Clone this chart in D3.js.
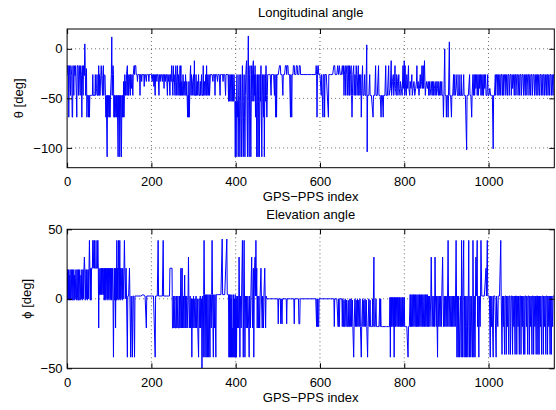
<!DOCTYPE html>
<html><head><meta charset="utf-8">
<script src="https://cdn.jsdelivr.net/npm/d3@7"></script>
<style>
body{margin:0;background:#fff}
text{font-family:"Liberation Sans",Arial,Helvetica,sans-serif;font-size:13px;fill:#000}
</style>
</head><body>
<svg id="c" width="556" height="410"></svg>
<script>
const xTicks=[0,200,400,600,800,1000];
const thetaTicks=[-100,-50,0];
const phiTicks=[-50,0,50];
const xMax=1156;

// Longitudinal angle theta [deg], [GPS-PPS index, value]
const theta=[[0,-27],[1,-17],[3,-17],[4,-69],[5,-27],[6,-17],[8,-47],[9,-17],[11,-27],[12,-69],[13,-69],[14,-17],[16,-47],[17,-17],[19,-27],[20,-17],[22,-47],[23,-69],[24,-17],[26,-17],[27,-47],[28,-27],[29,-17],[31,-47],[32,-17],[34,-27],[35,-69],[36,-17],[38,-47],[39,-17],[41,-27],[42,5],[43,-17],[44,-47],[46,-20],[47,-69],[48,-47],[50,-47],[51,-69],[52,-47],[53,-69],[54,-47],[56,-47],[58,-47],[60,-47],[61,-26],[62,-47],[64,-47],[66,-47],[67,-26],[68,-47],[70,-40],[71,-26],[72,-47],[74,-47],[75,-17],[76,-47],[77,-26],[78,-47],[80,-27],[81,-17],[82,-27],[84,-47],[85,-26],[86,-17],[87,-47],[88,-26],[90,-27],[91,-47],[92,-69],[93,-47],[95,-109],[96,-47],[97,-69],[98,-47],[100,-69],[101,-47],[102,-69],[103,-47],[105,-26],[106,12],[107,-47],[108,-26],[109,-17],[110,-26],[111,-69],[112,-47],[113,-69],[114,-47],[116,-69],[117,-47],[118,-69],[119,-47],[121,-109],[122,-47],[123,-69],[124,-47],[125,-109],[126,-69],[127,-47],[129,-109],[130,-47],[131,-69],[132,-47],[133,-69],[134,-33],[135,-69],[136,-47],[137,-26],[138,-47],[139,-33],[140,-47],[141,-26],[143,-17],[144,-47],[145,-26],[146,-47],[148,-33],[149,-26],[150,-47],[151,-26],[153,-40],[154,-26],[156,-47],[157,-26],[159,-17],[160,-26],[161,-17],[163,-17],[164,-26],[166,-26],[167,-33],[168,-26],[170,-26],[172,-26],[173,-47],[174,-26],[176,-26],[177,-33],[178,-26],[180,-26],[182,-26],[183,-38],[184,-26],[186,-26],[188,-33],[189,-26],[191,-26],[193,-26],[194,-33],[195,-26],[198,-26],
[200,-26],[202,-33],[203,-26],[205,-26],[206,-38],[207,-26],[209,-47],[210,-26],[212,-26],[213,-33],[214,-26],[216,-26],[218,-47],[219,-26],[221,-33],[222,-26],[224,-26],[226,-33],[227,-26],[229,-26],[230,-40],[231,-26],[233,-33],[234,-26],[236,-26],[238,-47],[239,-26],[241,-33],[242,-26],[244,-47],[245,-26],[247,-33],[248,-17],[249,-26],[251,-47],[252,-17],[253,-33],[254,-26],[256,-47],[257,-26],[258,-17],[259,-47],[260,-33],[262,-17],[263,-47],[264,-26],[266,-47],[267,-33],[268,-17],[269,-47],[270,-17],[271,-47],[272,-33],[274,-47],[275,-26],[277,-47],[278,-33],[280,-47],[281,-26],[283,-47],[284,-33],[286,-69],[287,-47],[288,-69],[289,-33],[290,-69],[291,-47],[292,-26],[293,-17],[294,-47],[295,-26],[297,-47],[298,-33],[300,-26],[301,-47],[302,-12],[303,-47],[305,-47],[306,-26],[307,-47],[309,-33],[310,-47],[312,-26],[313,-47],[315,-47],[316,-33],[317,-47],[319,-26],[320,-47],[322,-47],[323,-17],[324,-47],[326,-33],[327,-47],[329,-26],[330,-47],[331,-17],[332,-47],[334,-26],[335,-47],[337,-26],[338,-47],[340,-26],[342,-26],[344,-26],[346,-33],[347,-26],[350,-26],[351,-47],[352,-26],[355,-26],[357,-33],[358,-26],[361,-26],[363,-47],[364,-26],[367,-26],[369,-26],[370,-33],[371,-26],[374,-26],[376,-47],[377,-26],[380,-26],[382,-26],[383,-53],[384,-26],[386,-53],[387,-26],[389,-53],[390,-26],[392,-53],[393,-26],[395,-53],[396,-26],[398,-53],
[399,-109],[400,-53],[401,-109],[402,-53],[403,-26],[404,-69],[405,-53],[406,-109],[407,-47],[408,-26],[409,-69],[410,-109],[411,-53],[412,-26],[413,-69],[414,-109],[415,-47],[416,-17],[417,-69],[418,-109],[419,-53],[420,-26],[421,-69],[422,-109],[423,-47],[424,-26],[425,-17],[426,-12],[427,-69],[428,-109],[429,-26],[430,13],[431,-53],[432,-109],[433,-26],[434,-17],[435,-69],[436,-109],[437,-47],[438,-17],[439,-53],[440,-26],[441,-17],[442,-12],[443,-53],[444,-26],[445,-47],[446,-17],[447,-69],[448,-26],[449,-53],[450,-109],[451,-47],[452,-26],[453,-109],[454,-53],[455,-26],[456,-109],[457,-69],[458,-26],[459,-53],[460,-17],[461,-69],[462,-109],[463,-47],[464,-26],[465,-53],[466,-69],[467,-26],[468,-109],[469,-47],[470,-26],[471,-53],[472,-17],[473,-47],[474,-69],[475,-47],[476,-26],[478,-26],
[480,-26],[482,-26],[484,-47],[485,-26],[488,-26],[490,-26],[492,-47],[493,-26],[495,-69],[496,-26],[497,-69],[498,-26],[501,-26],[504,-17],[506,-17],[507,-26],[510,-26],[512,-47],[513,-26],[516,-26],[518,-17],[520,-17],[521,-26],[522,-17],[524,-17],[525,-26],[528,-26],[530,-69],[531,-26],[533,-69],[534,-26],[536,-26],[537,-17],[539,-17],[540,-26],[543,-26],[544,-17],[546,-17],[547,-26],[550,-26],[551,-17],[553,-17],[554,-26],[560,-26],[570,-26],[580,-26],[590,-26],
[591,-17],[592,-26],[593,-69],[594,-26],[595,-17],[596,-17],[597,-26],[600,-26],[603,-47],[604,-26],[607,-69],[608,-26],[610,-26],[611,-69],[612,-26],[615,-26],[620,-69],[621,-26],[625,-26],[630,-26],[633,-17],[635,-17],[636,-26],[640,-26],[642,-17],[644,-26],[646,-17],[648,-26],[651,-26],[653,-17],[655,-26],[656,-17],[657,-47],[658,-26],[660,-17],[661,-47],[662,-26],[664,-17],[665,-47],[667,-17],[668,-33],[669,-47],[670,-17],[671,-47],[672,-26],[674,-17],[675,-47],[676,-69],[677,-47],[678,-26],[680,-17],[681,-47],[683,-26],[684,-47],[686,-17],[687,-26],[688,-47],[690,-26],[691,-17],[692,-47],[694,-26],[695,-47],[697,-26],[698,-69],[699,-47],[701,-17],[702,-47],[704,-47],[706,-26],[707,-47],[709,-47],[711,4],[712,-104],[713,-47],[714,-47],
[716,-47],[718,-26],[719,-47],[722,-47],[726,-69],[727,-47],[730,-47],[732,-17],[733,-47],[736,-47],[739,-17],[740,-47],[743,-47],[745,-69],[746,-47],[748,-47],[750,-69],[751,-47],[754,-47],[756,-17],[757,-47],[760,-47],[763,-17],[764,-47],[767,-40],[769,-12],[770,-47],[772,-33],[774,-26],[775,-47],[777,-33],[778,-17],[779,-40],[781,-47],[782,-26],[784,-33],[785,-47],[787,-26],[788,-40],[790,-47],[791,-33],[793,-40],[795,-47],[797,-17],[798,-40],[800,-12],[801,-47],[802,-17],[803,-40],[805,-47],[806,-26],[808,-40],[810,-17],[811,-40],[813,-47],[814,-33],[816,-40],[818,-26],[819,-47],[821,-40],[823,-33],[825,-47],[827,-40],[829,-33],[830,-17],[831,-40],[833,-33],[835,-47],[836,-40],[838,-26],[839,-40],[841,-33],[842,-17],[843,-40],[845,-17],[846,-40],[848,-12],[849,-33],[850,-47],[851,-40],[853,-33],[855,-40],
[857,-33],[858,-47],[860,-33],[861,-47],[863,-40],[864,-33],[866,-47],[867,-33],[869,-47],[870,-33],[872,-40],[873,-47],[875,-33],[876,-47],[878,-33],[879,-40],[881,-47],[882,-33],[884,-47],[886,-33],[887,-47],[889,-33],[890,-47],[892,-47],[893,-69],[894,-47],[896,0],[897,-47],[899,-47],[900,-69],[901,-47],[903,-47],[904,-69],[905,-47],[907,7],[908,-47],[910,-47],[912,-69],[913,-47],[915,-47],[917,-26],[918,-47],[920,-26],[921,-47],[923,-40],[925,-26],[926,-47],[929,-47],[930,-26],[931,-47],[934,-47],[935,-26],[936,-47],[939,-47],[941,-26],[942,-47],[945,-47],[948,-102],[949,-47],[952,-47],[955,-26],[956,-47],[958,-47],[960,-69],[961,-47],[963,-26],[964,-47],[966,-26],[967,-47],[969,-26],[970,-40],[972,-26],[973,-47],[975,-26],[976,-47],[978,-26],[979,-40],[981,-26],[982,-47],[984,-26],[985,-47],[987,-26],[988,-47],[990,-26],[991,-40],[993,-26],[994,-47],[996,-47],[998,-26],[999,-47],[1001,-47],[1003,-40],[1005,-47],[1007,-47],[1009,-47],[1011,-101],[1012,-47],[1014,-47],[1016,-26],[1017,-47],[1019,-26],[1021,-26],[1022,-47],[1024,-26],[1025,-47],[1027,-26],[1029,-47],[1030,-26],[1032,-26],[1033,-47],[1035,-26],[1036,-47],[1038,-26],[1040,-26],[1041,-47],[1043,-26],[1045,-47],[1046,-26],[1048,-26],[1049,-47],[1051,-26],[1053,-26],[1054,-47],[1056,-26],[1057,-40],[1059,-26],[1061,-47],[1062,-26],[1064,-26],[1065,-47],[1067,-26],[1069,-26],[1070,-47],[1072,-26],[1074,-47],[1075,-26],[1077,-26],[1078,-47],[1080,-26],[1082,-26],[1083,-47],[1085,-26],[1087,-47],[1088,-26],[1090,-26],[1091,-47],[1093,-26],[1095,-26],[1096,-47],[1098,-26],[1100,-47],[1101,-26],[1103,-26],[1104,-47],[1106,-26],[1108,-26],[1109,-47],[1111,-26],[1113,-47],[1114,-26],[1116,-26],[1117,-47],[1119,-26],[1121,-47],[1122,-26],[1124,-26],[1125,-47],[1127,-26],[1129,-47],[1130,-26],[1132,-26],[1133,-47],[1135,-26],[1137,-47],[1138,-26],[1140,-26],[1141,-47],[1143,-26],[1145,-47],[1146,-26],[1148,-26],[1149,-47],[1151,-26],[1153,-47],[1154,-26],[1156,-26]];

// Elevation angle phi [deg], [GPS-PPS index, value]
const phi=[[0,-1],[1,21],[2,-1],[3,21],[4,0],[5,17],[6,-1],[7,21],[8,-1],[10,21],[11,0],[12,-1],[13,21],[14,-1],[16,21],[17,-1],[18,17],[19,0],[21,21],[22,-1],[24,21],[25,0],[26,-1],[27,21],[28,-1],[30,21],[31,-1],[33,17],[34,0],[35,21],[36,-1],[38,21],[39,0],[40,21],[41,30],[42,21],[43,-1],[45,21],[46,0],[47,21],[48,-1],[50,21],[51,0],[52,22],[53,42],[54,22],[55,-1],[56,22],
[57,-1],[58,22],[60,22],[61,42],[62,22],[63,30],[64,42],[65,22],[66,42],[67,22],[68,22],[70,22],[71,42],[72,22],[73,42],[74,22],[75,-21],[76,22],[77,3],[79,3],[80,22],[81,3],[82,22],[83,3],[84,22],[86,3],[87,22],[88,-1],[89,22],[90,0],[91,22],[92,-1],[93,22],[95,0],[96,22],[97,-1],[98,22],[99,0],[101,22],[102,-1],[103,22],[104,0],[105,22],[106,-1],[108,22],[109,-1],[110,-42],[111,0],[112,22],[113,-1],[114,22],[115,-21],[116,22],[117,-1],[118,42],[119,0],[120,22],[121,-1],[122,42],[123,22],[124,0],[125,42],[126,-1],[127,22],[128,0],[130,22],[131,-1],[132,22],[133,0],[135,22],[136,42],[137,22],[138,0],[140,22],[141,2],[143,-42],[144,2],[146,2],[148,22],[149,2],[151,-42],[152,2],[155,-42],[156,2],[158,2],[160,-42],[161,2],[165,2],[170,2],[175,2],[180,3],[185,2],[188,-21],[189,2],[195,2],[200,2],[205,2],[209,-42],[210,2],[214,2],[216,42],[217,2],[222,2],[226,2],[228,42],[229,2],[235,2],[240,2],[243,2],[244,22],[249,22],[250,-21],[252,-21],[253,2],[254,-21],[256,2],[257,-21],[259,-21],[260,2],[261,-21],[263,2],[264,-21],[266,-21],[267,2],[268,-21],[270,22],[271,-21],[272,2],[273,22],[274,-21],[276,2],[277,-21],[279,17],[280,-21],[281,2],[282,-21],[284,2],[285,-21],[287,0],[288,30],[289,0],[290,-21],[292,2],[293,-21],[295,0],[296,-42],[297,0],[298,-21],[300,2],[301,-21],[303,0],[304,-21],[306,2],[307,-21],[309,0],[310,-21],[312,-42],[313,0],[315,-21],[316,2],[317,-21],[319,0],[320,-50],[321,2],
[323,-42],[324,3],[325,42],[326,3],[327,-42],[328,3],[330,-42],[331,3],[333,-42],[334,3],[336,-42],[337,3],[339,-42],[340,3],[342,-21],[343,3],[344,42],[345,3],[347,-42],[348,3],[350,-21],[351,3],[353,-42],[354,3],[356,3],[360,3],[365,3],[368,43],[369,3],[374,3],[379,43],[380,3],[383,3],[384,-42],[385,3],[386,-42],[387,3],[388,-42],[389,0],[390,-42],[391,3],[392,-42],[393,-21],[394,-42],[395,3],[396,-42],[397,0],[398,-42],[399,3],[400,-42],[401,0],[402,-42],[403,2],[404,-21],[405,2],[407,-21],[408,30],[409,0],[410,-42],[411,2],[413,-21],[414,2],[416,42],[417,2],[418,-42],[419,2],[420,42],[421,0],[422,-42],[423,2],[425,-21],[426,2],[428,-21],[429,2],[431,-21],[432,-42],[433,2],[435,-21],[436,2],[438,30],[439,2],[440,-21],[442,22],[443,-42],[444,2],[445,22],[446,30],[447,2],[448,42],[449,2],[450,22],[451,-21],[452,2],[454,-21],[455,2],[457,-21],[458,2],[460,22],[461,2],[463,-21],[464,2],[466,-21],[467,2],[469,22],[470,2],[471,-21],[472,2],[474,0],
[480,0],[490,0],[500,0],[501,-18],[502,0],[506,0],[507,-18],[508,0],[510,-18],[511,0],[520,0],[521,-18],[522,0],[530,0],[538,0],[539,-18],[540,0],[549,0],[550,-18],[552,-18],[553,0],[560,0],[570,0],[580,0],[590,0],
[592,-20],[593,0],[594,-20],[595,0],[596,-20],[597,-20],[598,0],[605,0],[615,0],[625,0],[633,0],[634,-20],[635,0],[640,0],[643,-20],[644,0],[645,-20],[646,-20],[647,0],[652,0],[653,-20],[654,0],[656,-20],[657,-1],[658,-20],[659,-20],[660,0],[662,-20],[663,-1],[665,-20],[666,-20],[667,-1],[668,-20],[670,-20],[671,0],[672,-20],[674,0],[675,-20],[677,-1],[678,-20],[680,-42],[681,-20],[683,0],[684,-20],[686,-1],[687,-20],[689,0],[690,-20],[692,-1],[693,-20],[695,0],[696,-20],[698,-42],[699,-20],[701,0],[702,-20],[704,-1],[705,-20],[707,0],[708,-20],[710,-1],[711,-20],[713,-42],[714,-20],[716,0],[717,-20],[719,-1],[720,-20],[722,-20],[724,-20],[725,0],[726,-20],[728,30],[729,-20],[731,-20],[733,0],[734,-20],[737,-20],[740,-20],[742,0],[743,-20],[744,0],[745,-20],[748,-20],[752,-20],[755,-20],[758,-20],[762,-20],[765,-20],[766,1],[767,-42],[768,1],[769,-20],[770,1],[771,-20],[772,1],[774,-20],[775,1],[776,-42],[777,1],[778,-20],[779,1],[780,-20],[782,1],[783,-20],[784,1],[786,-20],[787,1],[788,-20],[789,1],[791,-20],[792,1],[793,-20],[795,1],[796,-20],[797,1],[799,-20],[800,1],[801,-20],[803,-20],[806,-20],[809,-42],[810,-20],[812,-20],[814,3],[815,-20],[816,3],[817,-20],[819,3],[820,-20],[822,3],[823,-20],[824,3],[826,-20],[827,3],[829,-20],[830,3],[831,-20],[833,3],[834,-20],[836,3],[837,-20],[838,3],[840,-20],[841,3],[843,-20],[844,3],[845,-20],[847,3],[848,-20],[850,3],[851,-20],[852,3],[854,-20],[855,3],
[856,-20],[857,2],[858,-20],[860,2],[861,-20],[863,2],[864,30],[865,2],[866,-20],[868,2],[869,-20],[871,2],[872,-20],[873,30],[874,2],[876,-20],[877,2],[879,-42],[880,2],[882,-20],[883,2],[885,-20],[886,2],[888,-20],[889,2],[891,30],[892,2],[893,-20],[895,2],[896,-20],[898,2],[899,-20],[901,2],[902,-20],[904,42],[905,2],[906,-20],[908,2],[909,-20],[911,2],[912,-20],[914,2],[915,-20],[917,2],[918,-20],[920,2],[921,-20],[923,42],[924,2],[925,-42],[926,2],[928,-42],[929,2],[931,-42],[932,-20],[934,2],[935,-42],[936,42],[937,2],[938,-42],[939,2],[941,42],[942,-42],[943,2],[945,-42],[946,2],[947,-20],[948,-42],[949,2],[951,-42],[952,2],[953,42],[954,-20],[955,-42],[956,2],[958,-42],[959,2],[960,-20],[962,-42],[963,42],[964,2],[965,-42],[966,2],[968,-42],[969,2],[970,30],[971,2],[973,42],[974,-20],[975,2],[977,-42],[978,2],[980,-20],[981,2],[982,42],[983,22],[984,2],[986,2],[990,2],[994,22],[995,2],[997,42],[998,2],[1002,2],[1004,-42],[1005,2],[1007,-20],[1008,2],[1011,-42],[1012,2],[1015,2],[1018,-42],[1019,2],[1022,-20],[1023,2],[1026,2],[1029,42],[1030,2],
[1032,-40],[1033,2],[1035,-20],[1036,2],[1038,-40],[1039,2],[1041,2],[1042,-40],[1043,2],[1045,-20],[1046,2],[1048,-40],[1049,2],[1051,2],[1052,-40],[1053,-20],[1054,2],[1056,2],[1057,-40],[1058,2],[1060,-20],[1061,2],[1063,-40],[1064,2],[1066,2],[1067,-40],[1068,2],[1070,-20],[1071,2],[1073,-40],[1074,2],[1076,2],[1077,-40],[1078,2],[1080,-20],[1081,2],[1083,-40],[1084,2],[1086,-40],[1087,2],[1089,2],[1090,-20],[1091,2],[1093,-40],[1094,2],[1096,2],[1097,-40],[1098,2],[1100,-20],[1101,2],[1103,-40],[1104,2],[1106,2],[1107,-40],[1108,2],[1110,-20],[1111,2],[1113,-40],[1114,2],[1116,2],[1117,-40],[1118,2],[1120,-40],[1121,2],[1123,-20],[1124,2],[1126,-40],[1127,2],[1129,2],[1130,-40],[1131,2],[1133,-20],[1134,2],[1136,-40],[1137,2],[1139,2],[1140,-40],[1141,2],[1143,-20],[1144,2],[1146,-40],[1147,2],[1149,-40],[1150,2],[1152,-20],[1153,2],[1155,2],[1156,2]];

const svg=d3.select("#c");
const L=67.1,R=554.3;

function panel(cfg){
  const x=d3.scaleLinear().domain([0,xMax]).range([L,R]);
  const y=d3.scaleLinear().domain(cfg.yDomain).range([cfg.bottom,cfg.top]);
  const g=svg.append("g");
  const id="clip"+cfg.key;
  svg.append("clipPath").attr("id",id).append("rect")
    .attr("x",L).attr("y",cfg.top).attr("width",R-L).attr("height",cfg.bottom-cfg.top);
  g.append("rect").attr("x",L).attr("y",cfg.top).attr("width",R-L).attr("height",cfg.bottom-cfg.top).attr("fill","#fff");
  const grid=g.append("g").attr("stroke","#000").attr("stroke-width",0.6).attr("stroke-dasharray","1,3").attr("fill","none");
  xTicks.forEach(t=>{ if(t>0 && t<xMax) grid.append("line").attr("x1",x(t)).attr("x2",x(t)).attr("y1",cfg.top).attr("y2",cfg.bottom);});
  cfg.yTicks.forEach(t=>{ if(t>cfg.yDomain[0] && t<cfg.yDomain[1]) grid.append("line").attr("x1",L).attr("x2",R).attr("y1",y(t)).attr("y2",y(t));});
  g.append("path").datum(cfg.data).attr("clip-path","url(#"+id+")")
    .attr("fill","none").attr("stroke","#0000ff").attr("stroke-width",1)
    .attr("d",d3.line().x(d=>x(d[0])).y(d=>y(d[1])));
  const ax=(gen,tr,lab)=>{
    const a=g.append("g").attr("transform",tr).call(gen);
    a.select(".domain").remove();
    a.selectAll(".tick line").attr("stroke","#000");
    if(!lab) a.selectAll(".tick text").remove();
    else a.selectAll(".tick text").attr("font-size",13).attr("font-family",'"Liberation Sans",Arial,sans-serif').attr("fill","#000");
    return a;
  };
  ax(d3.axisBottom(x).tickValues(xTicks).tickSize(-5).tickPadding(9).tickFormat(d3.format("d")),`translate(0,${cfg.bottom})`,true);
  ax(d3.axisTop(x).tickValues(xTicks).tickSize(-5),`translate(0,${cfg.top})`,false);
  ax(d3.axisLeft(y).tickValues(cfg.yTicks).tickSize(-5).tickPadding(4.5).tickFormat(d3.format("d")),`translate(${L},0)`,true);
  ax(d3.axisRight(y).tickValues(cfg.yTicks).tickSize(-5),`translate(${R},0)`,false);
  g.append("rect").attr("x",L).attr("y",cfg.top).attr("width",R-L).attr("height",cfg.bottom-cfg.top)
    .attr("fill","none").attr("stroke","#000").attr("stroke-width",1);
  g.append("text").attr("x",(L+R)/2).attr("y",cfg.titleY).attr("text-anchor","middle").text(cfg.title);
  g.append("text").attr("x",(L+R)/2).attr("y",cfg.xlabY).attr("text-anchor","middle").text("GPS\u2212PPS index");
  g.append("text").attr("transform",`translate(${cfg.ylabX},${(cfg.top+cfg.bottom)/2}) rotate(-90)`)
    .attr("text-anchor","middle").text(cfg.ylab);
}

panel({key:"a",data:theta,yDomain:[-120,20],yTicks:thetaTicks,top:29,bottom:167.7,
  title:"Longitudinal angle",titleY:16.5,xlabY:200.5,ylab:"\u03b8 [deg]",ylabX:23});
panel({key:"b",data:phi,yDomain:[-50,50],yTicks:phiTicks,top:229.3,bottom:368.3,
  title:"Elevation angle",titleY:218.5,xlabY:401.5,ylab:"\u03d5 [deg]",ylabX:31});
</script>
</body></html>
